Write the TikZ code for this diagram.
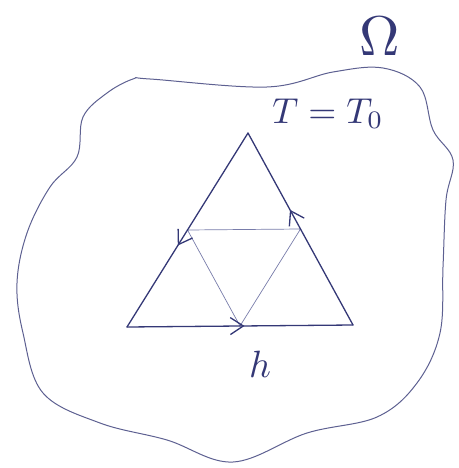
\documentclass[tikz,border=0pt]{standalone}
\usepackage{amsmath,amssymb}
\usepackage{xcolor}
\definecolor{ink}{RGB}{52, 56, 118}
\definecolor{paleink}{RGB}{120, 124, 170}
\usepackage{tikz}
\usetikzlibrary{calc,arrows.meta,decorations.markings}

\begin{document}
\begin{tikzpicture}[x=1pt, y=-1pt,
    edge/.style={ink, line width=1.3pt, line cap=round},
    thin edge/.style={paleink, line width=0.7pt},
    label/.style={ink, scale=#1},
    arrowat/.style={postaction={decorate}, decoration={markings, mark=at position #1 with {\arrow[ink, line width=1.3pt]{Straight Barb[length=13pt,width=17pt]}}}}]
    \useasboundingbox (0,0) rectangle (458,468);

    % Domain
    \draw[ink!80, line width=1pt] plot[smooth cycle, tension=0.6] coordinates {
        (150,79) (267,87) (333,72) (383,68) (420,87) (433,130) (453,160)
        (446,200) (443,267) (440,333) (417,383) (377,417) (307,433) (233,462)
        (167,440) (100,423) (43,393) (23,333) (17,283) (27,233) (50,187)
        (77,157) (83,117) (107,93) (133,79)};
    \node[label=5.6] (omega) at (380,36) {$\Omega$};

    % Triangle
    \coordinate (A) at (248,133);
    \coordinate (B) at (127,327);
    \coordinate (C) at (353,325);
    \coordinate (Mab) at ($(A)!0.5!(B)$);
    \coordinate (Mbc) at ($(B)!0.5!(C)$);
    \coordinate (Mca) at ($(C)!0.5!(A)$);

    % Inner edges
    \draw[thin edge] (Mab) -- (Mca) -- (Mbc) -- cycle;

    % Outer edges
    \draw[edge, arrowat=0.58] (A) -- (B);
    \draw[edge, arrowat=0.52] (B) -- (C);
    \draw[edge, arrowat=0.6] (C) -- (A);

    % Labels
    \node[label=3.6] (bc) at (328,114) {$T=T_0$};
    \node[label=3.8] (mesh) at (260,364) {$h$};
\end{tikzpicture}
\end{document}
